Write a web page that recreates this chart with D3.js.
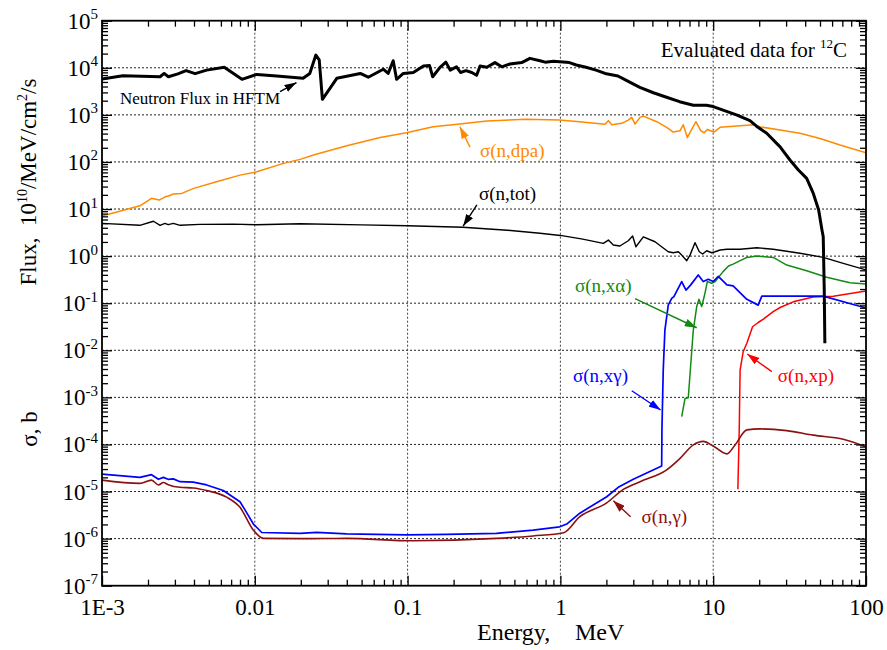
<!DOCTYPE html>
<html><head><meta charset="utf-8">
<script src="https://cdn.jsdelivr.net/npm/d3@7"></script>
<style>
body{margin:0;background:#fff}
text{font-family:"Liberation Serif","Times New Roman",serif}
</style>
</head><body>
<svg id="c" width="887" height="650"></svg>
<script>
// ---------- data ----------
const xDecades = [1e-3, 1e-2, 1e-1, 1, 10, 100];
const xTickLabels = ["1E-3", "0.01", "0.1", "1", "10", "100"];
const yExponents = [5, 4, 3, 2, 1, 0, -1, -2, -3, -4, -5, -6, -7];

// Neutron flux in HFTM, 10^10 /MeV/cm^2/s  [E (MeV), value]
const fluxHFTM = [[1.0e-3,5750],[1.37e-3,6760],[2.40e-3,6460],[2.55e-3,7590],[2.72e-3,6460],[3.14e-3,7410],[3.55e-3,8710],[4.07e-3,7500],[4.84e-3,8910],[6.31e-3,10230],[8.24e-3,5690],[1.03e-2,7240],[1.39e-2,6680],[2.07e-2,5970],[2.29e-2,7590],[2.51e-2,18600],[2.64e-2,14660],[2.77e-2,2140],[3.44e-2,5970],[4.90e-2,7590],[5.53e-2,6310],[6.93e-2,9330],[7.46e-2,7590],[8.05e-2,14130],[8.47e-2,5690],[9.38e-2,7590],[0.109,7940],[0.127,10960],[0.139,11220],[0.146,6460],[0.163,10230],[0.178,13180],[0.190,8910],[0.209,10470],[0.222,7940],[0.241,8710],[0.263,7940],[0.283,6920],[0.298,10960],[0.330,10230],[0.373,12880],[0.413,10470],[0.468,12020],[0.558,12880],[0.632,15850],[0.735,14130],[0.794,13180],[0.90,13740],[1.146,12880],[1.27,11480],[1.47,10230],[1.71,8910],[1.96,7590],[2.38,6680],[2.72,5320],[3.31,3850],[4.06,2950],[4.95,2370],[6.03,1905],[7.41,1600],[9.02,1600],[10,1500],[11.6,1260],[14.2,1000],[17.4,753],[19.2,575],[22.4,407],[27.4,209],[31.8,110],[36.1,67.6],[40.9,44.7],[45.2,21.4],[49.0,9.5],[51.5,3.6],[52.5,2.57],[53.3,0.19],[53.8,0.0141]];

// sigma(n,dpa), b
const sigDpa = [[1e-3,7.08],[1.77e-3,11.7],[2.11e-3,16.9],[2.37e-3,15.5],[2.59e-3,18.2],[2.72e-3,18.9],[2.93e-3,20.9],[3.33e-3,21.5],[3.98e-3,27.5],[5.62e-3,38.0],[8.0e-3,52.5],[1.03e-2,61.7],[1.54e-2,93.3],[1.98e-2,113.5],[2.42e-2,140],[4.0e-2,221],[6.61e-2,331],[9.82e-2,417],[0.147,558],[0.219,638],[0.330,741],[0.596,804],[0.986,776],[1.33,716],[1.96,631],[2.06,753],[2.17,619],[2.52,661],[2.78,776],[2.93,883],[3.08,638],[3.32,883],[3.49,940],[4.27,716],[4.96,543],[5.48,432],[6.07,461],[6.37,617],[6.77,331],[7.23,490],[7.71,716],[8.28,461],[8.71,417],[9.15,490],[10.1,432],[11.1,543],[14.3,579],[18.3,617],[20.2,558],[27.4,479],[37.0,407],[50.0,316],[67.6,229],[100,157]];

// sigma(n,tot), b
const sigTot = [[1e-3,4.97],[1.77e-3,4.51],[2.17e-3,5.50],[2.40e-3,4.51],[2.58e-3,4.97],[2.71e-3,4.65],[2.93e-3,4.97],[3.24e-3,4.51],[4.38e-3,4.73],[7.23e-3,4.79],[1.02e-2,4.65],[1.98e-2,4.88],[0.05,4.6],[0.1,4.4],[0.23,4.1],[0.45,3.55],[0.735,3.05],[1.0,2.75],[1.4,2.3],[1.91,1.86],[2.06,2.19],[2.22,1.72],[2.45,1.64],[2.78,2.12],[2.97,2.67],[3.12,1.58],[3.49,2.57],[4.16,2.02],[5.08,1.24],[5.48,1.18],[5.91,1.24],[6.22,1.05],[6.71,0.80],[7.05,1.05],[7.60,1.93],[8.11,1.24],[8.53,1.11],[9.06,1.30],[9.77,1.18],[10.3,1.24],[11.1,1.35],[12.3,1.40],[15.0,1.40],[19.3,1.51],[24.7,1.40],[37.0,1.15],[52.5,0.94],[71.0,0.70],[100,0.51]];

// sigma(n,x alpha), b
const sigXa = [[6.22,3.9e-4],[6.54,9.5e-4],[6.87,9.8e-4],[7.41,0.0269],[7.80,0.085],[8.07,0.121],[8.41,0.085],[8.83,0.162],[9.15,0.288],[9.77,0.266],[10.3,0.288],[11.6,0.468],[12.6,0.617],[13.5,0.676],[16.6,0.94],[19.3,1.0],[24.7,0.94],[30.3,0.646],[40.9,0.49],[55.3,0.355],[78.5,0.272],[100,0.257]];

// sigma(n,x gamma), b
const sigXg = [[1e-3,2.35e-5],[1.77e-3,2.0e-5],[2.11e-3,2.28e-5],[2.34e-3,1.82e-5],[2.52e-3,2.0e-5],[2.71e-3,1.82e-5],[2.93e-3,1.86e-5],[3.24e-3,1.62e-5],[3.96e-3,1.58e-5],[4.84e-3,1.38e-5],[6.22e-3,1.05e-5],[8.0e-3,6.07e-6],[8.63e-3,4.07e-6],[9.79e-3,2.04e-6],[1.11e-2,1.35e-6],[1.98e-2,1.29e-6],[2.54e-2,1.36e-6],[3.99e-2,1.26e-6],[9.83e-2,1.20e-6],[0.180,1.23e-6],[0.381,1.29e-6],[0.663,1.51e-6],[0.99,1.78e-6],[1.10,2.04e-6],[1.34,3.47e-6],[2.01,7.76e-6],[2.39,1.23e-5],[3.0,1.82e-5],[4.60,3.47e-5],[4.62,2.2e-4],[4.71,3.8e-3],[4.83,0.0269],[5.08,0.091],[5.35,0.126],[5.53,0.138],[6.22,0.288],[6.64,0.19],[7.13,0.245],[7.98,0.398],[8.61,0.288],[9.29,0.324],[10.0,0.288],[10.8,0.372],[12.3,0.245],[13.5,0.234],[16.6,0.121],[19.7,0.091],[20.8,0.141],[27.4,0.141],[52.5,0.141],[100,0.079]];

// sigma(n,xp), b
const sigXp = [[14.5,1.12e-5],[14.8,2.0e-4],[15.0,3.8e-3],[15.7,9.3e-3],[16.6,0.0141],[18.1,0.0316],[19.7,0.0389],[21.3,0.0457],[24.7,0.066],[27.4,0.081],[33.4,0.107],[45.2,0.135],[61.1,0.141],[100,0.182]];

// sigma(n,gamma), b
const sigNg = [[1e-3,1.75e-5],[1.77e-3,1.49e-5],[2.11e-3,1.75e-5],[2.34e-3,1.38e-5],[2.52e-3,1.55e-5],[2.71e-3,1.40e-5],[3.24e-3,1.23e-5],[3.96e-3,1.19e-5],[4.84e-3,1.05e-5],[6.54e-3,7.59e-6],[8.0e-3,4.61e-6],[9.79e-3,1.51e-6],[1.14e-2,1.01e-6],[1.98e-2,1.0e-6],[3.99e-2,1.01e-6],[0.108,9.0e-7],[0.381,1.01e-6],[0.663,1.14e-6],[1.05,1.33e-6],[1.34,2.92e-6],[2.01,5.75e-6],[2.58,1.11e-5],[3.32,1.62e-5],[4.96,2.88e-5],[6.07,5.07e-5],[7.41,9.77e-5],[8.61,1.16e-4],[10.0,9.25e-5],[12.3,6.31e-5],[13.9,9.77e-5],[16.6,2.04e-4],[20.2,2.14e-4],[30.3,1.97e-4],[45.2,1.58e-4],[71.0,1.29e-4],[100,8.9e-5]];

// annotations: label anchor (E,v), arrow tail (E,v), arrow tip (E,v)
const annotations = [
  {text:"Neutron Flux in HFTM", color:"#000", size:17, at:[1.31e-3,1700], from:[0.01462,3100], to:[0.01875,4860]},
  {text:"σ(n,dpa)", color:"#ff8a00", size:19, at:[0.298,129], from:[0.256,207], to:[0.220,561]},
  {text:"σ(n,tot)", color:"#000", size:19, at:[0.293,15.6], from:[0.284,12.2], to:[0.231,4.35]},
  {text:"σ(n,xα)", color:"#138a13", size:19, at:[1.246,0.1754], from:[3.08,0.1245], to:[7.80,0.0301]},
  {text:"σ(n,xγ)", color:"#0000ff", size:19, at:[1.209,2.15e-3], from:[2.93,1.38e-3], to:[4.53,5.38e-4]},
  {text:"σ(n,xp)", color:"#ff0000", size:19, at:[26.5,2.15e-3], from:[24.2,3.51e-3], to:[16.7,8.32e-3]},
  {text:"σ(n,γ)", color:"#8b1010", size:19, at:[3.40,2.17e-6], from:[2.88,2.92e-6], to:[2.22,6.37e-6]}
];
const titleAnchor = [75.1, 17200];

// ---------- layout ----------
const L = 102, R = 866, T = 20.7, B = 585.7;
const svg = d3.select("#c");
const x = d3.scaleLog().domain([1e-3, 100]).range([L, R]);
const y = d3.scaleLog().domain([1e-7, 1e5]).range([B, T]);

const yDecades = yExponents.map(e => Math.pow(10, e));
const minors = (decs) => { const m = []; for (let i = 0; i < decs.length - 1; i++) for (let k = 2; k <= 9; k++) m.push(decs[i] * k); return m; };
const xMinor = minors(xDecades);
const yMinor = minors(yDecades.slice().reverse());

// grid
const grid = svg.append("g");
grid.selectAll("line.h").data(yDecades.slice(1, -1)).join("line")
  .attr("x1", L).attr("x2", R).attr("y1", d => y(d)).attr("y2", d => y(d))
  .attr("stroke", "#222").attr("stroke-width", 1).attr("stroke-dasharray", "2,2");
grid.selectAll("line.v").data(xDecades.slice(1, -1)).join("line")
  .attr("y1", T).attr("y2", B).attr("x1", d => x(d)).attr("x2", d => x(d))
  .attr("stroke", "#444").attr("stroke-width", 1).attr("stroke-dasharray", "2,2");

// curves
svg.append("clipPath").attr("id", "pc").append("rect").attr("x", L).attr("y", T).attr("width", R - L).attr("height", B - T);
const plot = svg.append("g").attr("clip-path", "url(#pc)");
const line = d3.line().x(d => x(d[0])).y(d => y(d[1]));
const smooth = d3.line().x(d => x(d[0])).y(d => y(d[1])).curve(d3.curveMonotoneX);
const series = [
  {d: sigDpa, c: "#ff8a00", w: 1.5, g: line},
  {d: sigTot, c: "#000", w: 1.4, g: line},
  {d: sigXa, c: "#138a13", w: 1.5, g: line},
  {d: sigXp, c: "#ff0000", w: 1.5, g: line},
  {d: sigXg, c: "#0000ff", w: 1.7, g: line},
  {d: sigNg, c: "#8b1010", w: 1.6, g: smooth},
  {d: fluxHFTM, c: "#000", w: 3, g: line}
];
plot.selectAll("path.s").data(series).join("path")
  .attr("fill", "none").attr("stroke", s => s.c).attr("stroke-width", s => s.w)
  .attr("stroke-linejoin", "round").attr("d", s => s.g(s.d));

// axes (inward ticks on all sides)
function styleAxis(g) { g.select(".domain").remove(); g.selectAll("line").attr("stroke", "#000").attr("stroke-width", 1.3); }
const gB = svg.append("g").attr("transform", `translate(0,${B})`)
  .call(d3.axisBottom(x).tickValues(xDecades).tickSize(-10).tickFormat((d, i) => xTickLabels[i])).call(styleAxis);
gB.selectAll("text").attr("y", 29.5).attr("dy", 0).attr("font-size", 23).attr("fill", "#000")
  .attr("font-family", "Liberation Serif, Times New Roman, serif");
svg.append("g").attr("transform", `translate(0,${B})`)
  .call(d3.axisBottom(x).tickValues(xMinor).tickSize(-6).tickFormat("")).call(styleAxis);
svg.append("g").attr("transform", `translate(0,${T})`)
  .call(d3.axisTop(x).tickValues(xDecades).tickSize(-10).tickFormat("")).call(styleAxis);
svg.append("g").attr("transform", `translate(0,${T})`)
  .call(d3.axisTop(x).tickValues(xMinor).tickSize(-6).tickFormat("")).call(styleAxis);

const gLft = svg.append("g").attr("transform", `translate(${L},0)`)
  .call(d3.axisLeft(y).tickValues(yDecades).tickSize(-10).tickFormat("")).call(styleAxis);
gLft.selectAll(".tick text").remove();
const yl = gLft.selectAll(".tick").append("text")
  .attr("x", -4).attr("y", 7.5).attr("text-anchor", "end").attr("fill", "#000").attr("font-size", 23);
yl.append("tspan").text("10");
yl.append("tspan").attr("dy", -9.5).attr("font-size", 15).text((d, i) => String(yExponents[i]));
svg.append("g").attr("transform", `translate(${L},0)`)
  .call(d3.axisLeft(y).tickValues(yMinor).tickSize(-6).tickFormat("")).call(styleAxis);
svg.append("g").attr("transform", `translate(${R},0)`)
  .call(d3.axisRight(y).tickValues(yDecades).tickSize(-10).tickFormat("")).call(styleAxis);
svg.append("g").attr("transform", `translate(${R},0)`)
  .call(d3.axisRight(y).tickValues(yMinor).tickSize(-6).tickFormat("")).call(styleAxis);

// frame
svg.append("rect").attr("x", L).attr("y", T).attr("width", R - L).attr("height", B - T)
  .attr("fill", "none").attr("stroke", "#000").attr("stroke-width", 1.8);

// axis titles
const xt = svg.append("text").attr("y", 639.5).attr("font-size", 24).attr("fill", "#000");
xt.append("tspan").attr("x", 477).text("Energy,");
xt.append("tspan").attr("x", 575).text("MeV");

const yt = svg.append("text").attr("transform", "translate(36,182) rotate(-90)")
  .attr("text-anchor", "middle").attr("font-size", 23).attr("fill", "#000");
yt.append("tspan").text("Flux,\u00a0\u00a010");
yt.append("tspan").attr("dy", -9).attr("font-size", 14).text("10");
yt.append("tspan").attr("dy", 9).text("/MeV/cm");
yt.append("tspan").attr("dy", -9).attr("font-size", 14).text("2");
yt.append("tspan").attr("dy", 9).text("/s");

svg.append("text").attr("transform", "translate(36.5,429) rotate(-90)")
  .attr("text-anchor", "middle").attr("font-size", 23).attr("fill", "#000").text("σ, b");

// title
const tt = svg.append("text").attr("x", x(titleAnchor[0])).attr("y", y(titleAnchor[1]))
  .attr("text-anchor", "end").attr("font-size", 21).attr("fill", "#000");
tt.append("tspan").text("Evaluated data for ");
tt.append("tspan").attr("dy", -8.5).attr("font-size", 13).text("12");
tt.append("tspan").attr("dy", 8.5).text("C");

// annotations with arrows
const defs = svg.append("defs");
annotations.forEach((a, i) => {
  defs.append("marker").attr("id", "ah" + i).attr("viewBox", "0 0 12 8").attr("refX", 12).attr("refY", 4)
    .attr("markerWidth", 12).attr("markerHeight", 8).attr("markerUnits", "userSpaceOnUse").attr("orient", "auto")
    .append("path").attr("d", "M0,0 L12,4 L0,8 Z").attr("fill", a.color);
  svg.append("line")
    .attr("x1", x(a.from[0])).attr("y1", y(a.from[1])).attr("x2", x(a.to[0])).attr("y2", y(a.to[1]))
    .attr("stroke", a.color).attr("stroke-width", 1.4).attr("marker-end", `url(#ah${i})`);
  svg.append("text").attr("x", x(a.at[0])).attr("y", y(a.at[1]))
    .attr("font-size", a.size).attr("fill", a.color).text(a.text);
});
</script>
</body></html>
